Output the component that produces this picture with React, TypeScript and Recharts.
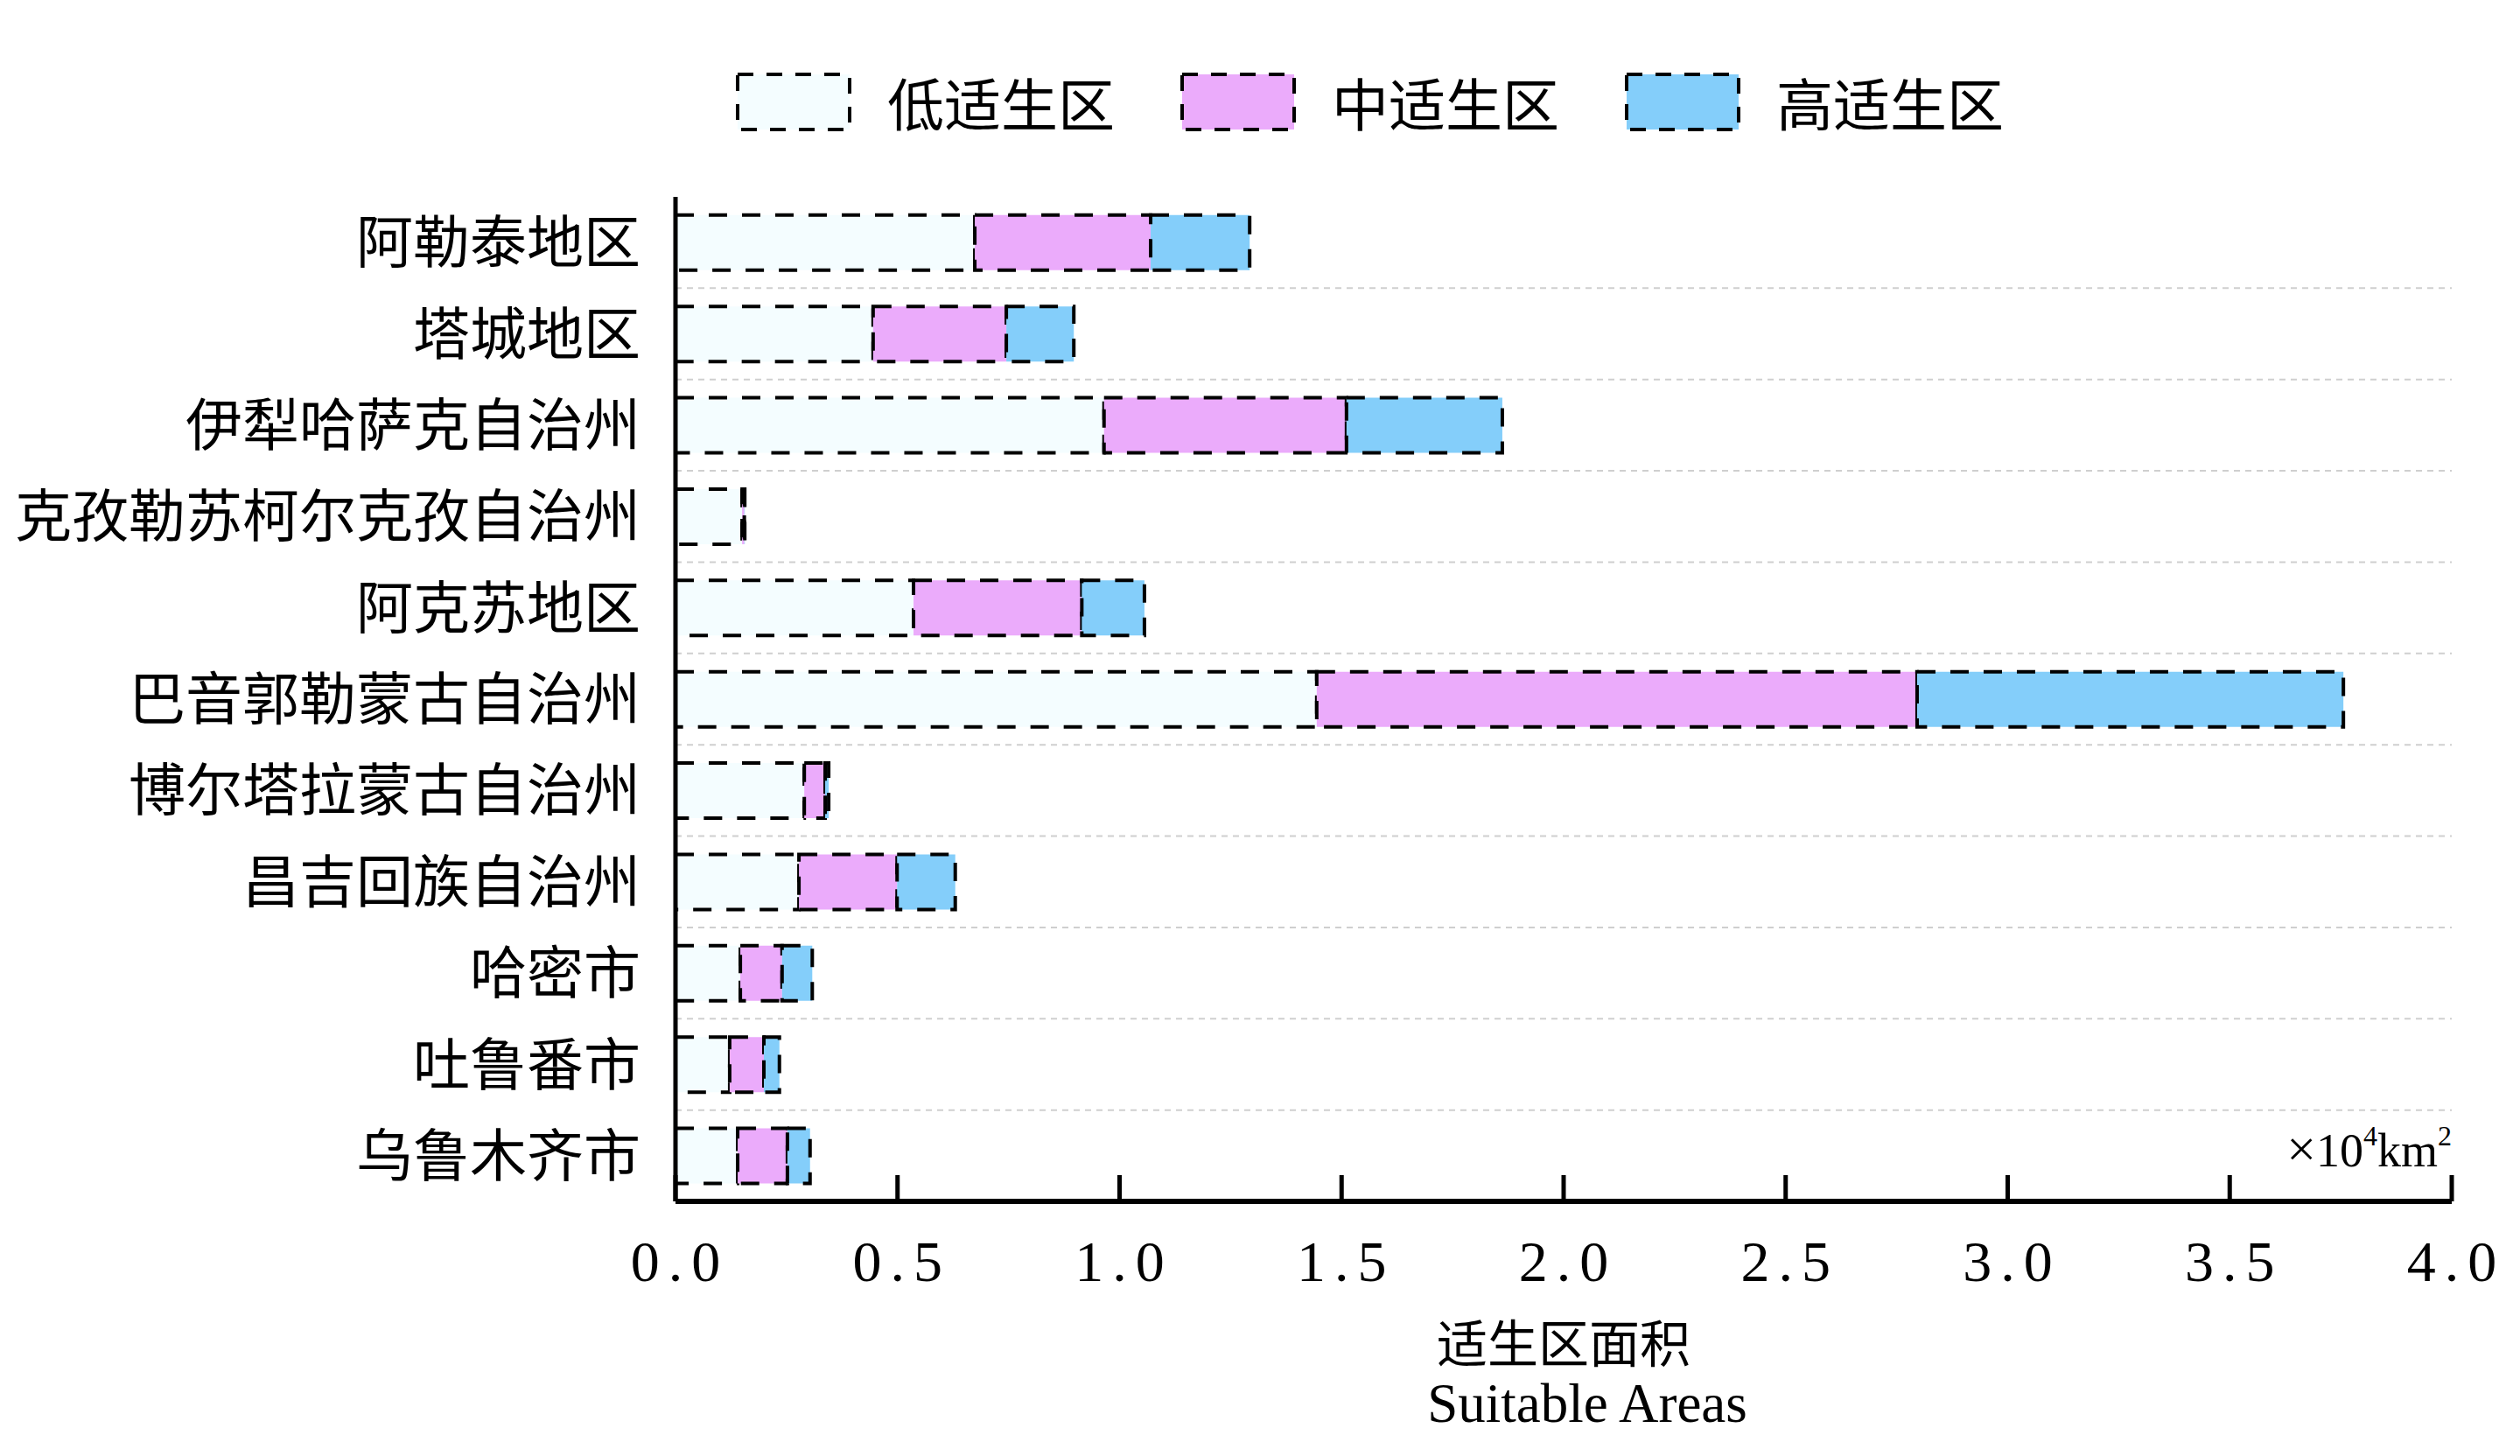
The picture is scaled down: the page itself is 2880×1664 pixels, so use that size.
import React from 'react';
import { BarChart, Bar, XAxis, YAxis, Legend, ReferenceLine, Label } from 'recharts';

const categories = [
  '阿勒泰地区',
  '塔城地区',
  '伊犁哈萨克自治州',
  '克孜勒苏柯尔克孜自治州',
  '阿克苏地区',
  '巴音郭勒蒙古自治州',
  '博尔塔拉蒙古自治州',
  '昌吉回族自治州',
  '哈密市',
  '吐鲁番市',
  '乌鲁木齐市',
];
const lowValues = [0.674, 0.445, 0.965, 0.150, 0.536, 1.444, 0.290, 0.278, 0.146, 0.122, 0.140];
const midValues = [0.396, 0.300, 0.546, 0.005, 0.379, 1.352, 0.047, 0.221, 0.094, 0.077, 0.112];
const highValues = [0.223, 0.152, 0.351, 0.001, 0.141, 0.960, 0.008, 0.131, 0.068, 0.035, 0.051];

const seriesKeys = ['low', 'mid', 'high'];
const seriesNames = ['低适生区', '中适生区', '高适生区'];
const seriesColors = ['#F4FDFF', '#EBABFB', '#84CEFA'];

const xTicks = [0, 0.5, 1.0, 1.5, 2.0, 2.5, 3.0, 3.5, 4.0];
// grid lines sit at the lower edge of every band except the last one
const gridCategories = categories.slice(0, categories.length - 1);

const xTitleCn = '适生区面积';
const xTitleEn = 'Suitable Areas';

const data = categories.map((name, i) => ({
  name,
  low: lowValues[i],
  mid: midValues[i],
  high: highValues[i],
}));

const CJK = '"Noto Sans CJK SC", sans-serif';
const SERIF = '"Liberation Serif", "Times New Roman", serif';

const XTick = (props: any) => {
  const { x, y, payload } = props;
  return (
    <g>
      <line x1={x} x2={x} y1={y} y2={y - 30} stroke="#000" strokeWidth={5} />
      <text
        x={x}
        y={y + 91}
        dx={5}
        textAnchor="middle"
        fontFamily={SERIF}
        fontSize={66}
        letterSpacing={10}
        fill="#000"
      >
        {Number(payload.value).toFixed(1)}
      </text>
    </g>
  );
};

const renderLegend = () => (
  <div
    style={{
      display: 'flex',
      alignItems: 'center',
      fontFamily: CJK,
      fontSize: 65,
      lineHeight: '67px',
      whiteSpace: 'nowrap',
      color: '#000',
    }}
  >
    {seriesNames.map((n, i) => (
      <div
        key={n}
        style={{ display: 'flex', alignItems: 'center', marginRight: i < seriesNames.length - 1 ? 75 : 0 }}
      >
        <svg width={132} height={67} style={{ display: 'block' }}>
          <rect
            x={2}
            y={2}
            width={128}
            height={63}
            fill={seriesColors[i]}
            stroke="#000"
            strokeWidth={4}
            strokeDasharray="18 15"
          />
        </svg>
        <span style={{ marginLeft: 41 }}>{n}</span>
      </div>
    ))}
  </div>
);

const AxisTexts = (props: any) => {
  const vb = props.viewBox || {};
  const { x = 0, y = 0, width = 0 } = vb;
  const cx = x + width / 2;
  return (
    <g>
      <text x={x + width} y={y - 40} textAnchor="end" fontFamily={SERIF} fontSize={54} fill="#000">
        <tspan fontSize={60}>×</tspan>
        <tspan>10</tspan>
        <tspan fontSize={32} dy={-24}>4</tspan>
        <tspan dy={24}>km</tspan>
        <tspan fontSize={32} dy={-24}>2</tspan>
      </text>
      <text x={cx} y={y + 184} textAnchor="middle" fontFamily={CJK} fontSize={58} fill="#000">
        {xTitleCn}
      </text>
      <text x={cx + 27} y={y + 252} textAnchor="middle" fontFamily={SERIF} fontSize={63} fill="#000">
        {xTitleEn}
      </text>
    </g>
  );
};

export default function App() {
  return (
    <BarChart
      width={2864}
      height={1648}
      data={data}
      layout="vertical"
      margin={{ top: 217, right: 70, bottom: 0, left: 0 }}
      barCategoryGap="20%"
    >
      <XAxis
        type="number"
        domain={[0, 4]}
        ticks={xTicks}
        interval={0}
        allowDataOverflow
        axisLine={{ stroke: '#000', strokeWidth: 6 }}
        tickLine={false}
        tickSize={0}
        tickMargin={0}
        tick={<XTick />}
        height={283}
      >
        <Label content={<AxisTexts />} />
      </XAxis>
      <YAxis
        yAxisId="cat"
        type="category"
        dataKey="name"
        width={764}
        interval={0}
        axisLine={{ stroke: '#000', strokeWidth: 5 }}
        tickLine={false}
        tickSize={0}
        tickMargin={40}
        tick={{ fill: '#000', fontSize: 65, fontFamily: CJK }}
      />
      {gridCategories.map((c) => (
        <ReferenceLine
          key={c}
          yAxisId="cat"
          y={c}
          position="end"
          stroke="#cfcfcf"
          strokeWidth={2}
          strokeDasharray="7 6"
        />
      ))}
      <Legend
        layout="horizontal"
        verticalAlign="middle"
        align="center"
        wrapperStyle={{ top: 75, left: 833, width: 'auto' }}
        content={renderLegend}
      />
      {seriesKeys.map((k, i) => (
        <Bar
          key={k}
          yAxisId="cat"
          dataKey={k}
          name={seriesNames[i]}
          stackId="s"
          fill={seriesColors[i]}
          stroke="#000"
          strokeWidth={4}
          strokeDasharray="21 17"
          isAnimationActive={false}
        />
      ))}
    </BarChart>
  );
}
